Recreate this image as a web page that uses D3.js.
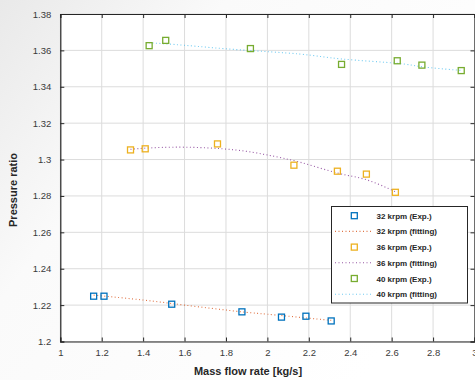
<!DOCTYPE html>
<html><head><meta charset="utf-8">
<script src="https://cdn.jsdelivr.net/npm/d3@7"></script>
<style>html,body{margin:0;padding:0;background:#fff;}svg{display:block;}</style>
</head><body>
<script>
const xTicks = [1,1.2,1.4,1.6,1.8,2,2.2,2.4,2.6,2.8,3];
const yTicks = [1.2,1.22,1.24,1.26,1.28,1.3,1.32,1.34,1.36,1.38];
const yTickLabels = ["1.2","1.22","1.24","1.26","1.28","1.3","1.32","1.34","1.36","1.38"];

const exp32x = [1.161,1.211,1.538,1.877,2.068,2.186,2.308];
const exp32y = [1.2249,1.2249,1.2205,1.2163,1.2134,1.2139,1.2113];
const fit32x = [1.161,1.4,1.6,1.877,2.0,2.2,2.308];
const fit32y = [1.2255,1.2228,1.2200,1.2163,1.2150,1.2128,1.2116];

const exp36x = [1.339,1.410,1.759,2.128,2.338,2.478,2.618];
const exp36y = [1.3053,1.3059,1.3086,1.2969,1.2936,1.2920,1.2820];
const fit36x = [1.339,1.4,1.6,1.843,2.0,2.155,2.338,2.478,2.618];
const fit36y = [1.3056,1.3062,1.3068,1.3053,1.3025,1.2986,1.2926,1.2889,1.2823];

const exp40x = [1.429,1.509,1.918,2.358,2.627,2.746,2.936];
const exp40y = [1.3626,1.3655,1.3610,1.3523,1.3543,1.3519,1.3489];
const fit40x = [1.429,1.6,1.867,2.155,2.358,2.627,2.746,2.936];
const fit40y = [1.3642,1.3628,1.3603,1.3580,1.3553,1.3529,1.3510,1.3490];

const legendLabels = ["32 krpm (Exp.)","32 krpm (fitting)","36 krpm (Exp.)","36 krpm (fitting)","40 krpm (Exp.)","40 krpm (fitting)"];
const expColors = ["#0072BD","#EDB120","#77AC30"];
const fitColors = ["#D95319","#7E2F8E","#4DBEEE"];

const W=475,H=380;
const svg=d3.select("body").append("svg").attr("width",W).attr("height",H);
const defs=svg.append("defs");
const g0=defs.append("linearGradient").attr("id","bg").attr("x1","0").attr("y1","0").attr("x2","1").attr("y2","0.6");
g0.append("stop").attr("offset","0").attr("stop-color","#e9e9e9");
g0.append("stop").attr("offset","0.35").attr("stop-color","#fafafa");
g0.append("stop").attr("offset","1").attr("stop-color","#ffffff");
svg.append("rect").attr("width",W).attr("height",H).attr("fill","url(#bg)");

const L=60.3,R=474.5,T=14,B=341.5;
const x=d3.scaleLinear().domain([1,3]).range([L,R]);
const y=d3.scaleLinear().domain([1.2,1.38]).range([B,T]);

svg.append("rect").attr("x",L).attr("y",T).attr("width",R-L).attr("height",B-T).attr("fill","#fff");

// grid
const grid=svg.append("g").attr("stroke","#dcdcdc").attr("stroke-width",1);
xTicks.forEach(t=>grid.append("line").attr("x1",x(t)).attr("x2",x(t)).attr("y1",T).attr("y2",B));
yTicks.forEach(t=>grid.append("line").attr("y1",y(t)).attr("y2",y(t)).attr("x1",L).attr("x2",R));

// axes
const fmtY=(d)=>yTickLabels[yTicks.indexOf(d)];
const axB=svg.append("g").attr("transform",`translate(0,${B})`).call(d3.axisBottom(x).tickValues(xTicks).tickSize(-4).tickPadding(8).tickFormat(d3.format("")));
const axT=svg.append("g").attr("transform",`translate(0,${T})`).call(d3.axisTop(x).tickValues(xTicks).tickSize(-4).tickFormat(""));
const axL=svg.append("g").attr("transform",`translate(${L},0)`).call(d3.axisLeft(y).tickValues(yTicks).tickSize(-4).tickPadding(9).tickFormat(fmtY));
const axR=svg.append("g").attr("transform",`translate(${R},0)`).call(d3.axisRight(y).tickValues(yTicks).tickSize(-4).tickFormat(""));
[axB,axT,axL,axR].forEach(a=>{
  a.selectAll("path").attr("stroke","#262626").attr("stroke-width",1.2);
  a.selectAll("line").attr("stroke","#262626");
  a.selectAll("text").attr("fill","#3a3a3a").style("font-family","'Liberation Sans',Arial,sans-serif").style("font-size","9.5px");
});

// fits
const line=d3.line().x(d=>x(d[0])).y(d=>y(d[1])).curve(d3.curveNatural);
const fits=[[fit32x,fit32y],[fit36x,fit36y],[fit40x,fit40y]];
fits.forEach((f,i)=>{
  svg.append("path").datum(f[0].map((v,j)=>[v,f[1][j]])).attr("d",line)
    .attr("fill","none").attr("stroke",fitColors[i]).attr("stroke-width",1.1).attr("stroke-dasharray","1,2.5").attr("opacity",0.8);
});
// exp markers
const exps=[[exp32x,exp32y],[exp36x,exp36y],[exp40x,exp40y]];
const s=6;
exps.forEach((e,i)=>{
  svg.append("g").selectAll("rect").data(e[0].map((v,j)=>[v,e[1][j]])).join("rect")
    .attr("x",d=>x(d[0])-s/2).attr("y",d=>y(d[1])-s/2).attr("width",s).attr("height",s)
    .attr("fill","none").attr("stroke",expColors[i]).attr("stroke-width",1.3);
});

// legend
const lg=svg.append("g");
lg.append("rect").attr("x",331.5).attr("y",206.5).attr("width",136).attr("height",96.5).attr("fill","#fff").attr("stroke","#262626").attr("stroke-width",1);
legendLabels.forEach((lab,i)=>{
  const yy=215.7+i*15.7;
  const k=Math.floor(i/2);
  if(i%2===0){
    lg.append("rect").attr("x",354.3-s/2).attr("y",yy-s/2).attr("width",s).attr("height",s).attr("fill","none").attr("stroke",expColors[k]).attr("stroke-width",1.3);
  } else {
    lg.append("line").attr("x1",335).attr("x2",372).attr("y1",yy).attr("y2",yy).attr("stroke",fitColors[k]).attr("stroke-width",1.1).attr("stroke-dasharray","1,2.5").attr("opacity",0.8);
  }
  lg.append("text").attr("x",376.5).attr("y",yy+3).text(lab).attr("fill","#262626")
    .style("font-family","'Liberation Sans',Arial,sans-serif").style("font-size","8px").style("font-weight","bold");
});

// axis titles
svg.append("text").attr("x",248).attr("y",375).attr("text-anchor","middle").text("Mass flow rate [kg/s]")
  .attr("fill","#262626").style("font-family","'Liberation Sans',Arial,sans-serif").style("font-size","11px").style("font-weight","bold");
svg.append("text").attr("transform",`translate(17,190) rotate(-90)`).attr("text-anchor","middle").text("Pressure ratio")
  .attr("fill","#262626").style("font-family","'Liberation Sans',Arial,sans-serif").style("font-size","11px").style("font-weight","bold");
</script>
</body></html>
